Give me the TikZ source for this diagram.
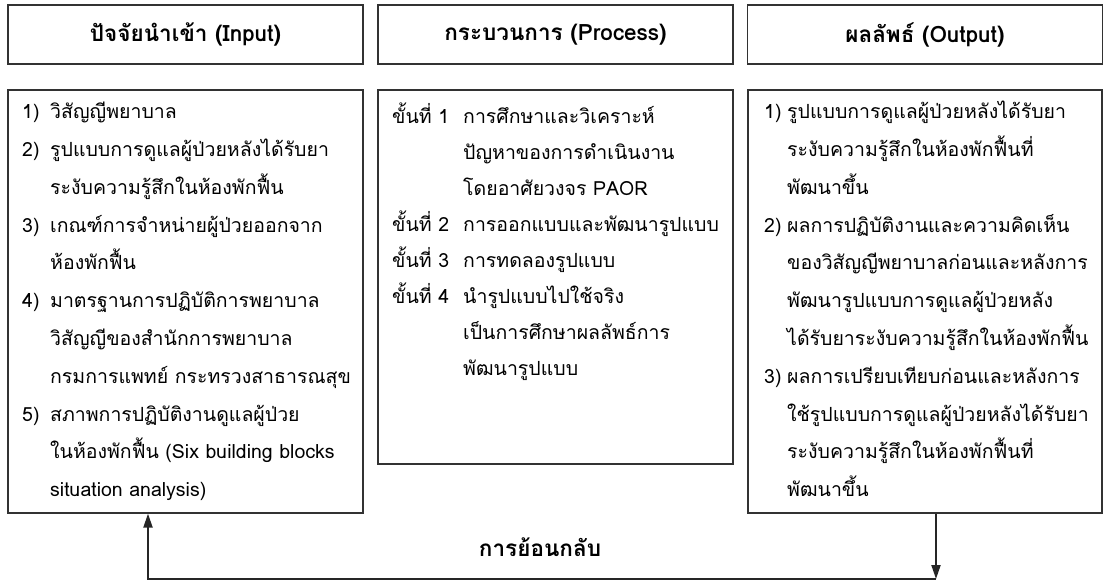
\documentclass[tikz,border=0pt]{standalone}
\usepackage{fontspec}
\setmainfont[Script=Thai]{Loma}
\usetikzlibrary{arrows.meta}
\definecolor{edge}{RGB}{50,50,50}
\tikzset{
  box/.style={draw=edge, line width=1.2pt, rectangle, inner sep=0pt},
  head/.style={box, minimum width=355pt, minimum height=59pt, font=\fontsize{22.5}{26}\selectfont\bfseries},
  body/.style={anchor=north west, inner sep=0pt, align=left, font=\fontsize{19.5}{37.8}\selectfont},
  arr/.style={line width=2pt, draw=black!85, -{Stealth[length=14pt,width=9pt,inset=0pt]}},
  fb/.style={font=\fontsize{22.5}{26}\selectfont\bfseries}
}
\begin{document}
\begin{tikzpicture}[x=1pt,y=-1pt]
\useasboundingbox (0,0) rectangle (1103,583);
% headers
\node[head] (h1) at (185.5,34.5) {ปัจจัยนำเข้า (Input)};
\node[head] (h2) at (555.5,34.5) {กระบวนการ (Process)};
\node[head] (h3) at (925,34.5) {ผลลัพธ์ (Output)};
% body boxes
\node[box, minimum width=355pt, minimum height=423pt] (b1) at (185.5,301.5) {};
\node[box, minimum width=355pt, minimum height=374pt] (b2) at (555.5,277) {};
\node[box, minimum width=354pt, minimum height=423pt] (b3) at (925,301.5) {};
% body texts
\node[body] (t1) at (22,92) {\begin{tabular}{@{}p{28pt}@{}l@{}}
1) & วิสัญญีพยาบาล\\
2) & รูปแบบการดูแลผู้ป่วยหลังได้รับยา\\
   & ระงับความรู้สึกในห้องพักฟื้น\\
3) & เกณฑ์การจำหน่ายผู้ป่วยออกจาก\\
   & ห้องพักฟื้น\\
4) & มาตรฐานการปฏิบัติการพยาบาล\\
   & วิสัญญีของสำนักการพยาบาล\\
   & กรมการแพทย์ กระทรวงสาธารณสุข\\
5) & สภาพการปฏิบัติงานดูแลผู้ป่วย\\
   & ในห้องพักฟื้น (Six building blocks\\
   & situation analysis)
\end{tabular}};
\node[body] (t2) at (392,98) {\fontsize{19.5}{36}\selectfont\begin{tabular}{@{}p{71pt}@{}l@{}}
ขั้นที่ 1 & การศึกษาและวิเคราะห์\\
         & ปัญหาของการดำเนินงาน\\
         & โดยอาศัยวงจร PAOR\\
ขั้นที่ 2 & การออกแบบและพัฒนารูปแบบ\\
ขั้นที่ 3 & การทดลองรูปแบบ\\
ขั้นที่ 4 & นำรูปแบบไปใช้จริง\\
         & เป็นการศึกษาผลลัพธ์การ\\
         & พัฒนารูปแบบ
\end{tabular}};
\node[body] (t3) at (764,92) {\begin{tabular}{@{}p{23pt}@{}l@{}}
1) & รูปแบบการดูแลผู้ป่วยหลังได้รับยา\\
   & ระงับความรู้สึกในห้องพักฟื้นที่\\
   & พัฒนาขึ้น\\
2) & ผลการปฏิบัติงานและความคิดเห็น\\
   & ของวิสัญญีพยาบาลก่อนและหลังการ\\
   & พัฒนารูปแบบการดูแลผู้ป่วยหลัง\\
   & ได้รับยาระงับความรู้สึกในห้องพักฟื้น\\
3) & ผลการเปรียบเทียบก่อนและหลังการ\\
   & ใช้รูปแบบการดูแลผู้ป่วยหลังได้รับยา\\
   & ระงับความรู้สึกในห้องพักฟื้นที่\\
   & พัฒนาขึ้น
\end{tabular}};
% feedback loop
\coordinate (c1) at (936,579);
\coordinate (c2) at (148,579);
\draw[arr] (b3.south -| c1) -- (c1);
\draw[arr] (c1) -- (c2) -- (b1.south -| c2);
\node[fb] (fbl) at (540,547) {การย้อนกลับ};
\end{tikzpicture}
\end{document}
